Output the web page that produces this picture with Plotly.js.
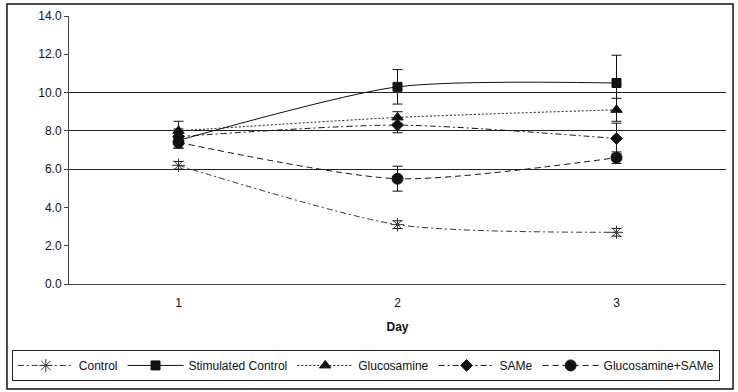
<!DOCTYPE html>
<html>
<head>
<meta charset="utf-8">
<script src="https://cdn.plot.ly/plotly-3.0.1.min.js"></script>
<style>
html,body{margin:0;padding:0;background:#fff;}
#chart{width:738px;height:392px;}
</style>
</head>
<body>
<div id="chart"></div>
<script>
const days = ['1', '2', '3'];
const yTicks = [0, 2, 4, 6, 8, 10, 12, 14];
const gridValues = [6, 8, 10];

const control = [6.2, 3.1, 2.7];
const controlErr = [0.2, 0.2, 0.2];
const stimulated = [7.5, 10.3, 10.5];
const stimulatedErr = [0.4, 0.9, 1.45];
const glucosamine = [8.0, 8.7, 9.1];
const glucosamineErr = [0.5, 0.3, 0.6];
const same = [7.7, 8.3, 7.6];
const sameErr = [0.4, 0.4, 0.8];
const glucSame = [7.4, 5.5, 6.6];
const glucSameErr = [0.3, 0.65, 0.3];

function series(name, y, err, dash, symbol, size, color) {
  return {
    type: 'scatter', mode: 'lines+markers', name: name,
    x: days, y: y,
    line: {color: color, width: 1, dash: dash, shape: 'spline', smoothing: 0.7},
    marker: {symbol: symbol, size: size, color: color, line: {color: color, width: 1}},
    error_y: {type: 'data', array: err, visible: true, color: '#111', thickness: 1, width: 5}
  };
}

const data = [
  series('Control', control, controlErr, '6px,3px,2px,3px', 'asterisk-open', 11, '#333'),
  series('Stimulated Control', stimulated, stimulatedErr, 'solid', 'square', 9, '#111'),
  series('Glucosamine', glucosamine, glucosamineErr, '2px,2px', 'triangle-up', 10, '#111'),
  series('SAMe', same, sameErr, '6px,3px,2px,3px', 'diamond', 9, '#111'),
  series('Glucosamine+SAMe', glucSame, glucSameErr, '6px,4px', 'circle', 11, '#111'),
  {type: 'scatter', x: days, y: [null, null, null], yaxis: 'y2', showlegend: false, hoverinfo: 'skip'}
];

const font = {family: 'Liberation Sans, Arial, sans-serif', size: 12, color: '#111'};

const layout = {
  width: 738, height: 392,
  margin: {l: 69, r: 12, t: 16, b: 108, autoexpand: false},
  paper_bgcolor: '#fff', plot_bgcolor: 'rgba(0,0,0,0)',
  font: font,
  showlegend: true,
  xaxis: {
    type: 'category', range: [-0.5, 2.5],
    showline: true, linecolor: '#444', linewidth: 1,
    showgrid: false, zeroline: false, ticks: '',
    ticklabelstandoff: 8,
    tickfont: font,
    title: {text: '<b>Day</b>', font: {family: font.family, size: 12, color: '#111'}, standoff: 13}
  },
  yaxis: {
    range: [0, 14], tickvals: yTicks, tickformat: '.1f',
    showline: true, linecolor: '#444', linewidth: 1,
    showgrid: false, zeroline: false, ticks: 'outside', ticklen: 4, tickcolor: '#444',
    tickfont: font
  },
  yaxis2: {
    range: [0, 14], overlaying: 'y', tickvals: gridValues,
    showticklabels: false, showgrid: true, gridcolor: '#222', gridwidth: 1,
    zeroline: false, showline: false, ticks: ''
  },
  legend: {
    orientation: 'h', x: -0.087, y: -0.246, xanchor: 'left', yanchor: 'top',
    bordercolor: '#222', borderwidth: 1, bgcolor: '#fff',
    font: font, itemwidth: 56, tracegroupgap: 0
  },
  shapes: [
    {type: 'rect', xref: 'paper', yref: 'paper', x0: -0.0944, x1: 1.0107, y0: -0.392, y1: 1.045,
     line: {color: '#111', width: 1.5}, fillcolor: 'rgba(0,0,0,0)', layer: 'below'}
  ]
};

Plotly.newPlot('chart', data, layout, {displayModeBar: false, staticPlot: true});
</script>
</body>
</html>
